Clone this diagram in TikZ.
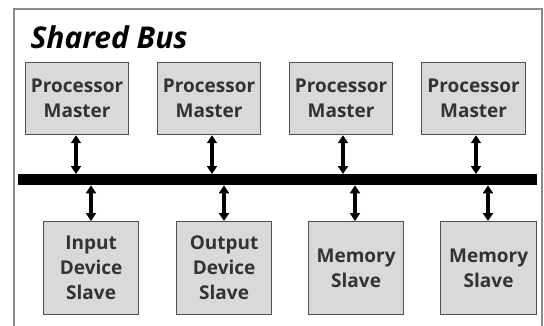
\documentclass[tikz,border=0pt]{standalone}
\usepackage{fontspec}
\setmainfont{Open Sans}
\usetikzlibrary{arrows.meta}
\definecolor{boxfill}{HTML}{D9D9D9}
\definecolor{boxline}{HTML}{505050}
\definecolor{txt}{HTML}{333333}
\definecolor{frame}{HTML}{8A8A8A}
\tikzset{
  unit/.style={draw=boxline, line width=1.2pt, fill=boxfill, text=txt,
    font=\fontsize{19}{25}\selectfont\bfseries, align=center,
    inner sep=0pt, anchor=north west},
  link/.style={line width=3.4pt, {Triangle[width=10pt,length=8pt]}-{Triangle[width=10pt,length=8pt]}},
  busbar/.style={fill=black, draw=none}
}
\begin{document}
\begin{tikzpicture}[x=1pt, y=-1pt]
  \useasboundingbox (0,0) rectangle (544,325);
  \fill[white] (0,0) rectangle (544,325);
  % outer frame (open at the bottom)
  \draw[frame, line width=1.8pt] (14,330) -- (14,9) -- (542,9) -- (542,330);
  \node[anchor=base west, text=black, font=\fontsize{30}{32}\selectfont\bfseries\itshape] (title) at (27,48) {Shared Bus};

  % the bus
  \node[busbar, minimum width=519pt, minimum height=11pt, inner sep=0pt, anchor=north west] (bus) at (18,174) {};

  % masters
  \node[unit, minimum width=103pt, minimum height=72pt] (m1) at (25,62) {Processor\\Master};
  \node[unit, minimum width=103pt, minimum height=72pt] (m2) at (157,62) {Processor\\Master};
  \node[unit, minimum width=103pt, minimum height=72pt] (m3) at (289,62) {Processor\\Master};
  \node[unit, minimum width=104pt, minimum height=72pt] (m4) at (421,62) {Processor\\Master};

  % slaves
  \node[unit, minimum width=95pt, minimum height=93pt] (s1) at (43,221) {Input\\Device\\Slave};
  \node[unit, minimum width=95pt, minimum height=93pt] (s2) at (176,221) {Output\\Device\\Slave};
  \node[unit, minimum width=95pt, minimum height=93pt] (s3) at (308,221) {Memory\\Slave};
  \node[unit, minimum width=96pt, minimum height=93pt] (s4) at (440,221) {Memory\\Slave};

  % links to the bus
  \draw[link] (m1.south -| 76,0) -- (bus.north -| 76,0);
  \draw[link] (m2.south -| 212,0) -- (bus.north -| 212,0);
  \draw[link] (m3.south -| 343,0) -- (bus.north -| 343,0);
  \draw[link] (m4.south -| 476,0) -- (bus.north -| 476,0);
  \draw[link] (bus.south -| 91,0) -- (s1.north -| 91,0);
  \draw[link] (bus.south -| 224,0) -- (s2.north -| 224,0);
  \draw[link] (bus.south -| 355,0) -- (s3.north -| 355,0);
  \draw[link] (bus.south -| 488,0) -- (s4.north -| 488,0);
\end{tikzpicture}
\end{document}
